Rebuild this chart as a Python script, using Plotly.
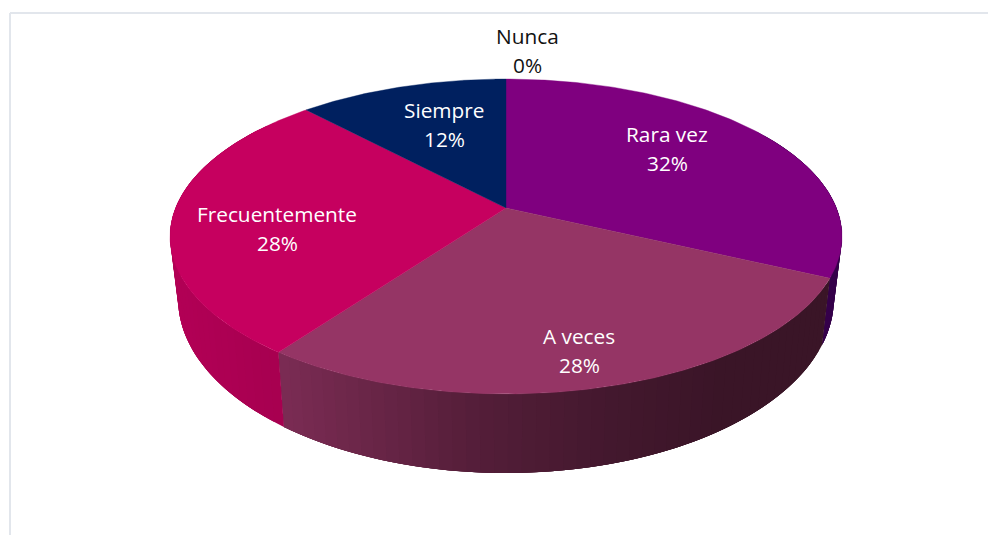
import numpy as np
import plotly.graph_objects as go

# ---- data ----
categories = ["Nunca", "Rara vez", "A veces", "Frecuentemente", "Siempre"]
values = [0, 32, 28, 28, 12]

# ---- style ----
top_colors = ["#7F007F", "#7F007F", "#953565", "#C6005F", "#00205F"]
text_colors = ["#111111", "#FFFFFF", "#FFFFFF", "#FFFFFF", "#FFFFFF"]
label_centres = [(527, 36, 65), (667, 134, 163), (579, 336, 365), (277, 214, 243), (444, 110, 139)]
FONT = "Open Sans"
FONT_SIZE = 20.8
BORDER = "#E2E6EC"

# projection of the pie disc on the page (pixel-space axes)
CX, CY = 506.0, 208.0
PERSP = 0.181
TOP_A, TOP_B, TOP_C = 330.4, 152.3, 0.0
BOT_A, BOT_B, BOT_C = 322.5, 158.0, -59.0


def project(theta, a, b, c):
    u, v = np.sin(theta), np.cos(theta)
    w = 1 + PERSP * v
    return CX + a * u / w, CY - (b * v + c) / w


def rgb(hex_colour):
    return np.array([int(hex_colour[i:i + 2], 16) for i in (1, 3, 5)], dtype=float)


def side_colour(i, x):
    base = rgb(top_colors[i])
    name = categories[i]
    if name == "A veces":
        k = np.interp(x, [285, 480, 600, 720, 840], [0.82, 0.56, 0.46, 0.39, 0.39])
    elif name == "Frecuentemente":
        k = np.interp(x, [170, 285], [0.90, 0.84])
    elif name == "Rara vez":
        return "#35004A"
    else:
        k = 0.6
    c = base * k
    return f"rgb({c[0]:.0f},{c[1]:.0f},{c[2]:.0f})"


fractions = np.cumsum([0] + values) / sum(values)
fig = go.Figure()

# side wall: each strip overlaps the next one and they are painted in order, so no seam shows
for i, name in enumerate(categories):
    if values[i] == 0:
        continue
    t0, t1 = 2 * np.pi * fractions[i], 2 * np.pi * fractions[i + 1]
    n = max(2, int((t1 - t0) / np.radians(2.0)))
    edges = np.linspace(t0, t1, n + 1)
    for a0, a1 in zip(edges[:-1], edges[1:]):
        if np.cos((a0 + a1) / 2) > 0.55:
            continue
        end = min(a1 + (a1 - a0) * 3, t1)
        ts = np.linspace(a0, end, 6)
        xt, yt = project(ts, TOP_A, TOP_B, TOP_C)
        xb, yb = project(ts[::-1], BOT_A, BOT_B, BOT_C)
        xs = np.r_[xt, xb, xt[0]]
        ys = np.r_[yt, yb, yt[0]]
        col = side_colour(i, project((a0 + a1) / 2, TOP_A, TOP_B, TOP_C)[0])
        fig.add_trace(go.Scatter(x=xs, y=ys, mode="none", fill="toself", fillcolor=col,
                                 hoverinfo="skip", showlegend=False))

# top face of the pie
for i, name in enumerate(categories):
    if values[i] == 0:
        continue
    ts = np.linspace(2 * np.pi * fractions[i], 2 * np.pi * fractions[i + 1], 160)
    xt, yt = project(ts, TOP_A, TOP_B, TOP_C)
    xs = np.r_[CX, xt, CX]
    ys = np.r_[CY, yt, CY]
    fig.add_trace(go.Scatter(x=xs, y=ys, mode="lines", fill="toself", fillcolor=top_colors[i],
                             line=dict(color=top_colors[i], width=0.4), name=name,
                             hoverinfo="name", showlegend=False))

# data labels
for name, val, col, (lx, y1, y2) in zip(categories, values, text_colors, label_centres):
    for txt, ly in ((name, y1), (f"{round(100 * val / sum(values))}%", y2)):
        fig.add_annotation(x=lx, y=ly, text=txt, showarrow=False, xanchor="center", yanchor="middle",
                           font=dict(family=FONT, size=FONT_SIZE, color=col))

fig.add_shape(type="line", x0=10, x1=988, y0=13, y1=13, line=dict(color=BORDER, width=2))
fig.add_shape(type="line", x0=10, x1=10, y0=13, y1=535, line=dict(color=BORDER, width=2))

fig.update_layout(
    width=988, height=535, margin=dict(l=0, r=0, t=0, b=0),
    paper_bgcolor="white", plot_bgcolor="white",
    xaxis=dict(range=[0, 988], visible=False, fixedrange=True),
    yaxis=dict(range=[535, 0], visible=False, fixedrange=True),
)
fig.write_html("out.html", config={"displayModeBar": False},
               post_script="document.body.style.margin='0';document.documentElement.style.overflow='hidden';")
